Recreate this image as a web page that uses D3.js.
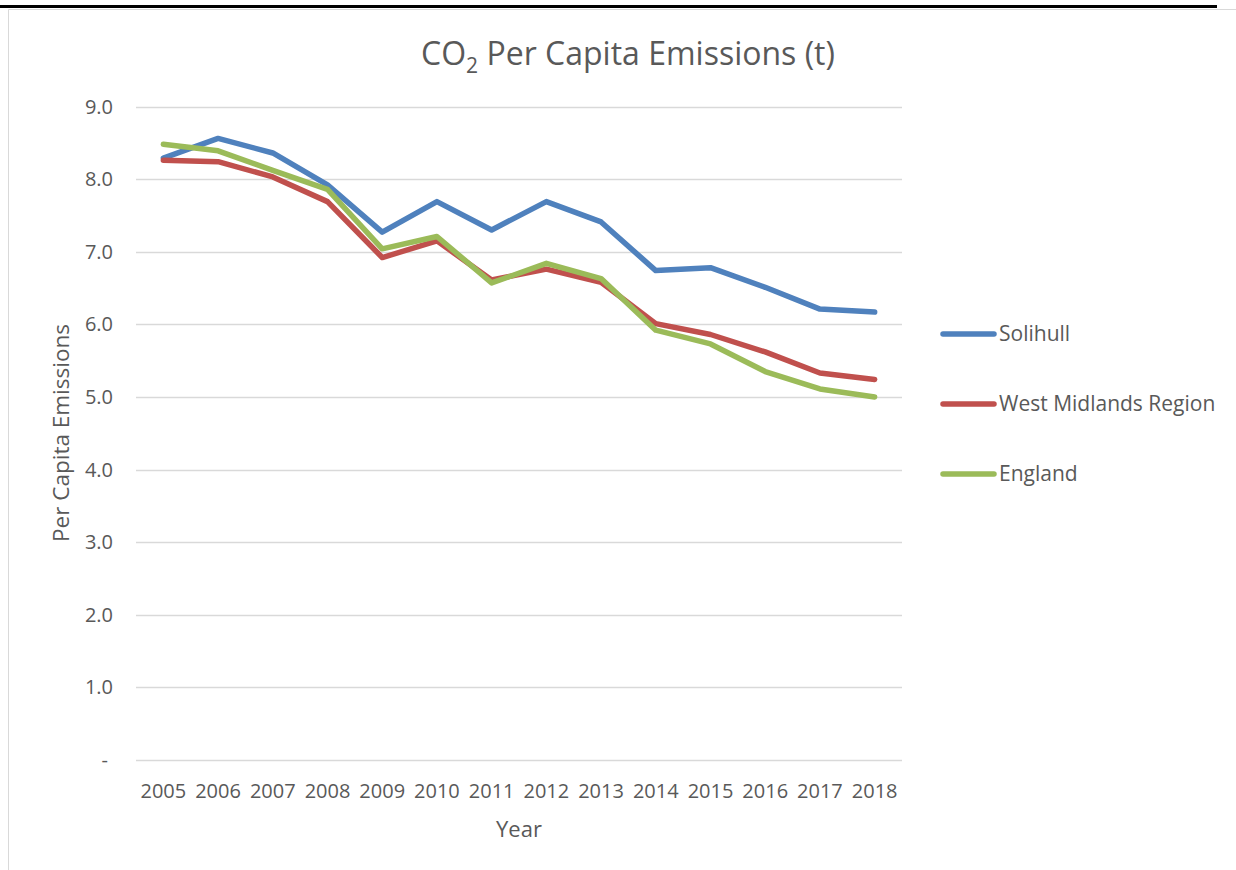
<!DOCTYPE html>
<html><head><meta charset="utf-8">
<script src="https://cdn.jsdelivr.net/npm/d3@7"></script>
<style>body{margin:0;background:#fff}svg{display:block}text{font-family:"Open Sans",sans-serif;fill:#595959}</style>
</head><body><svg id="c" width="1236" height="870"></svg>
<script>
const years = ["2005","2006","2007","2008","2009","2010","2011","2012","2013","2014","2015","2016","2017","2018"];
const solihull = [8.29,8.56,8.36,7.92,7.27,7.69,7.30,7.69,7.41,6.74,6.78,6.51,6.21,6.17];
const westMidlands = [8.26,8.24,8.03,7.69,6.92,7.15,6.61,6.76,6.58,6.01,5.86,5.62,5.33,5.24];
const england = [8.48,8.39,8.12,7.86,7.04,7.21,6.57,6.84,6.63,5.92,5.73,5.35,5.11,5.00];
const yTicks = [0,1,2,3,4,5,6,7,8,9];
const seriesNames = ["Solihull","West Midlands Region","England"];
const colors = ["#4f81bd","#c0504d","#9bbb59"];
const series = [solihull, westMidlands, england];

const svg = d3.select("#c");
// page decorations
svg.append("rect").attr("x",0).attr("y",5).attr("width",1217).attr("height",3).attr("fill","#000");
svg.append("line").attr("x1",8.5).attr("x2",1236).attr("y1",9.5).attr("y2",9.5).attr("stroke","#d9d9d9");
svg.append("line").attr("x1",8.5).attr("x2",8.5).attr("y1",9.5).attr("y2",870).attr("stroke","#d9d9d9");

const x = d3.scaleBand().domain(years).range([136,902]);
const y = d3.scaleLinear().domain([0,9]).range([760,106.5]);

// gridlines
svg.append("g").selectAll("line").data(yTicks).join("line")
  .attr("x1",136).attr("x2",902).attr("y1",d=>Math.round(y(d))+0.5).attr("y2",d=>Math.round(y(d))+0.5)
  .attr("stroke","#d9d9d9").attr("stroke-width",1.5);

// y labels
svg.append("g").selectAll("text").data(yTicks).join("text")
  .attr("x",d=>d===0?108:113).attr("y",d=>y(d)).attr("dy","0.35em").attr("text-anchor","end")
  .attr("font-size",20).text(d=>d===0?"-":d.toFixed(1));

// x labels
svg.append("g").selectAll("text").data(years).join("text")
  .attr("x",d=>x(d)+x.bandwidth()/2).attr("y",791).attr("dy","0.35em").attr("text-anchor","middle")
  .attr("font-size",20).text(d=>d);

// lines
const line = d3.line().x((d,i)=>x(years[i])+x.bandwidth()/2).y(d=>y(d));
series.forEach((s,i)=>{
  svg.append("path").datum(s).attr("d",line).attr("fill","none").attr("stroke",colors[i])
    .attr("stroke-width",5.5).attr("stroke-linejoin","round").attr("stroke-linecap","round");
});

// title
const t = svg.append("text").attr("x",628).attr("y",65).attr("text-anchor","middle").attr("font-size",32);
t.append("tspan").text("CO");
t.append("tspan").attr("font-size",21).attr("dy",8).text("2");
t.append("tspan").attr("dy",-8).text(" Per Capita Emissions (t)");

// axis titles
svg.append("text").attr("transform","translate(69,433) rotate(-90)").attr("text-anchor","middle")
  .attr("font-size",22.5).text("Per Capita Emissions");
svg.append("text").attr("x",519).attr("y",829).attr("dy","0.35em").attr("text-anchor","middle")
  .attr("font-size",22).text("Year");

// legend
const legY = [334,404,474];
const lg = svg.append("g").selectAll("g").data(seriesNames).join("g");
lg.append("line").attr("x1",943).attr("x2",994).attr("y1",(d,i)=>legY[i]).attr("y2",(d,i)=>legY[i])
  .attr("stroke",(d,i)=>colors[i]).attr("stroke-width",5.5).attr("stroke-linecap","round");
lg.append("text").attr("x",999).attr("y",(d,i)=>legY[i]).attr("dy","0.35em").attr("font-size",21).text(d=>d);
</script></body></html>
